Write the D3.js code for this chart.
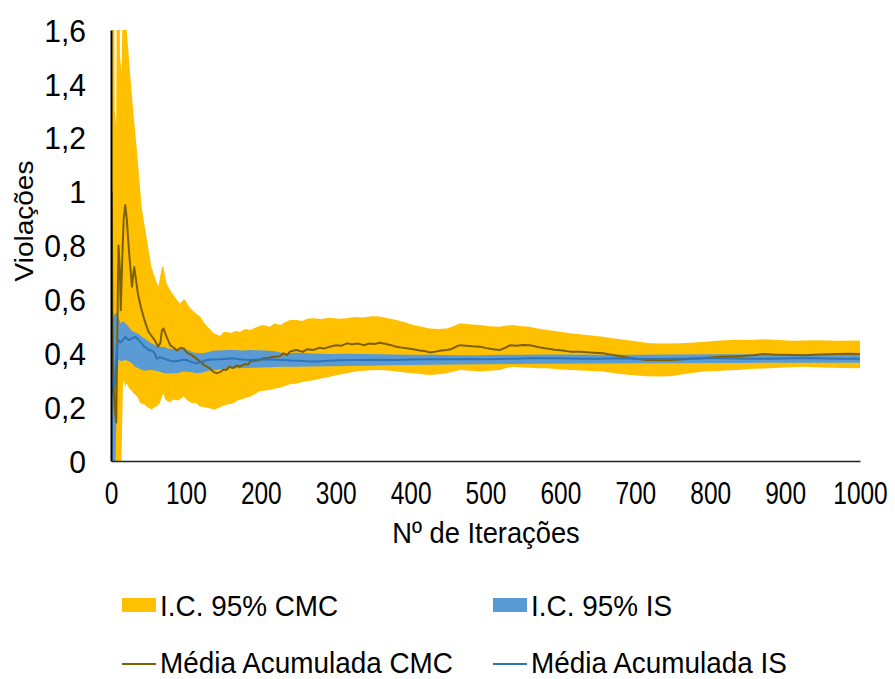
<!DOCTYPE html>
<html>
<head>
<meta charset="utf-8">
<script src="https://cdn.jsdelivr.net/npm/d3@7"></script>
<style>
  body { margin: 0; background: #fff; }
  text { font-family: "Liberation Sans", Arial, sans-serif; fill: #000; }
</style>
</head>
<body>
<svg id="chart" width="895" height="679"></svg>
<script>
// Cumulative mean and 95% confidence bounds, [iteration, value]
const cmcMean = [[1,1.0],[2,0.5],[3,0.333],[4,0.25],[5,0.2],[6,0.167],[7,0.143],[9,0.6],[10,0.8],[12,0.7],[13,0.56],[15,0.75],[17,0.9],[19,0.95],[21,0.9],[24,0.78],[27,0.68],[28,0.647],[30,0.7],[31,0.72],[33,0.68],[36,0.62],[40,0.57],[45,0.52],[50,0.48],[54,0.465],[58,0.45],[63,0.424],[66,0.44],[68,0.486],[70,0.492],[73,0.47],[76,0.45],[79,0.43],[84,0.42],[88,0.41],[93,0.42],[97,0.418],[102,0.4],[108,0.393],[114,0.38],[119,0.369],[125,0.355],[132,0.344],[137,0.33],[141,0.326],[146,0.33],[150,0.34],[154,0.338],[158,0.35],[163,0.345],[168,0.355],[172,0.35],[178,0.36],[183,0.358],[186,0.369],[192,0.372],[199,0.375],[203,0.381],[210,0.383],[217,0.387],[221,0.387],[226,0.39],[230,0.4],[235,0.393],[239,0.406],[244,0.41],[248,0.412],[256,0.405],[262,0.415],[270,0.412],[278,0.42],[285,0.418],[292,0.424],[300,0.43],[308,0.428],[315,0.437],[322,0.433],[330,0.436],[337,0.43],[345,0.436],[352,0.434],[359,0.439],[366,0.435],[374,0.43],[381,0.424],[390,0.42],[397,0.418],[404,0.415],[412,0.41],[419,0.408],[426,0.403],[433,0.406],[441,0.41],[448,0.412],[455,0.416],[461,0.425],[466,0.43],[474,0.428],[482,0.426],[493,0.424],[500,0.42],[510,0.415],[519,0.412],[526,0.42],[533,0.43],[541,0.428],[550,0.431],[559,0.43],[567,0.425],[575,0.42],[582,0.418],[592,0.413],[603,0.41],[613,0.406],[626,0.406],[640,0.403],[657,0.4],[672,0.393],[688,0.385],[700,0.38],[715,0.375],[730,0.376],[746,0.375],[760,0.377],[775,0.38],[790,0.381],[800,0.384],[813,0.387],[828,0.388],[844,0.39],[858,0.393],[870,0.397],[885,0.395],[900,0.394],[924,0.393],[945,0.395],[969,0.397],[985,0.398],[1000,0.397]];

const cmcUpper = [[1,1.0],[2,1.9],[4,2.0],[5,1.3],[7,1.25],[8,2.0],[11,2.0],[12,1.5],[14,1.45],[16,1.75],[19,1.75],[21,1.6],[28,1.35],[34,1.17],[41,0.94],[48,0.82],[54,0.72],[60,0.67],[63,0.647],[66,0.69],[68,0.72],[70,0.72],[74,0.66],[79,0.635],[85,0.61],[92,0.585],[97,0.6],[99,0.598],[105,0.57],[112,0.55],[119,0.536],[125,0.51],[132,0.49],[137,0.474],[141,0.47],[146,0.465],[150,0.478],[154,0.48],[160,0.475],[166,0.483],[172,0.48],[179,0.49],[186,0.486],[190,0.492],[197,0.5],[203,0.505],[212,0.498],[218,0.51],[226,0.505],[232,0.515],[239,0.523],[248,0.523],[255,0.52],[262,0.528],[270,0.53],[280,0.527],[292,0.532],[304,0.528],[315,0.53],[326,0.535],[337,0.533],[348,0.537],[359,0.536],[370,0.53],[381,0.523],[392,0.515],[404,0.505],[415,0.498],[426,0.492],[437,0.49],[448,0.492],[457,0.5],[466,0.511],[478,0.508],[493,0.505],[506,0.5],[519,0.498],[528,0.503],[537,0.505],[548,0.5],[559,0.498],[570,0.492],[582,0.486],[595,0.482],[613,0.474],[635,0.468],[657,0.461],[672,0.455],[688,0.449],[705,0.443],[720,0.437],[740,0.436],[760,0.437],[778,0.44],[795,0.443],[813,0.447],[835,0.45],[852,0.449],[871,0.452],[890,0.449],[910,0.446],[924,0.447],[945,0.448],[970,0.446],[1000,0.447]];

const cmcLower = [[1,0],[14,0],[16,0.29],[17,0.3],[19,0.276],[21,0.288],[24,0.27],[28,0.26],[30,0.251],[33,0.245],[36,0.235],[39,0.214],[45,0.21],[48,0.2],[52,0.196],[54,0.19],[58,0.2],[62,0.205],[65,0.214],[68,0.24],[70,0.251],[72,0.23],[76,0.22],[79,0.22],[84,0.228],[90,0.225],[97,0.239],[102,0.225],[108,0.215],[114,0.214],[119,0.202],[125,0.2],[132,0.196],[137,0.19],[142,0.195],[150,0.205],[156,0.21],[163,0.214],[170,0.226],[178,0.232],[186,0.239],[193,0.25],[199,0.26],[206,0.262],[212,0.264],[221,0.27],[226,0.272],[234,0.28],[239,0.285],[248,0.288],[259,0.295],[270,0.3],[281,0.306],[292,0.313],[304,0.32],[315,0.326],[326,0.332],[337,0.335],[348,0.337],[359,0.338],[370,0.336],[381,0.332],[392,0.329],[404,0.326],[415,0.322],[426,0.319],[437,0.322],[448,0.326],[457,0.332],[466,0.338],[480,0.335],[493,0.332],[506,0.335],[519,0.338],[528,0.345],[537,0.35],[548,0.347],[559,0.346],[570,0.344],[582,0.344],[600,0.34],[613,0.338],[635,0.335],[657,0.332],[672,0.326],[690,0.32],[715,0.315],[730,0.314],[746,0.315],[760,0.32],[775,0.327],[791,0.332],[813,0.335],[835,0.338],[858,0.342],[880,0.344],[900,0.347],[924,0.35],[950,0.347],[975,0.345],[1000,0.344]];

const isMean = [[1,0.25],[3,0.3],[5,0.28],[8,0.424],[10,0.449],[13,0.44],[16,0.45],[19,0.461],[22,0.452],[25,0.449],[28,0.455],[32,0.461],[35,0.455],[38,0.445],[41,0.437],[44,0.425],[47,0.42],[50,0.412],[54,0.41],[57,0.405],[59,0.395],[61,0.38],[65,0.385],[70,0.381],[76,0.375],[83,0.369],[90,0.372],[95,0.376],[101,0.375],[107,0.368],[114,0.363],[121,0.368],[128,0.375],[135,0.377],[146,0.378],[155,0.38],[163,0.381],[172,0.378],[180,0.376],[186,0.375],[197,0.377],[208,0.378],[219,0.376],[230,0.375],[241,0.373],[252,0.372],[262,0.37],[275,0.369],[290,0.372],[305,0.374],[320,0.375],[340,0.375],[360,0.376],[380,0.375],[400,0.377],[420,0.378],[440,0.378],[460,0.378],[480,0.379],[500,0.378],[520,0.379],[540,0.38],[560,0.381],[580,0.381],[600,0.381],[625,0.38],[650,0.38],[680,0.381],[700,0.38],[730,0.379],[760,0.38],[790,0.381],[820,0.381],[850,0.38],[880,0.38],[910,0.381],[940,0.381],[970,0.38],[1000,0.38]];

const isUpper = [[1,0.52],[3,0.535],[6,0.55],[8,0.545],[10,0.53],[13,0.51],[16,0.52],[19,0.511],[23,0.5],[27,0.486],[30,0.48],[34,0.475],[38,0.47],[41,0.461],[45,0.455],[50,0.445],[54,0.437],[59,0.43],[65,0.424],[70,0.424],[76,0.418],[83,0.415],[90,0.412],[97,0.418],[104,0.41],[110,0.403],[119,0.4],[128,0.403],[137,0.41],[146,0.41],[155,0.412],[165,0.412],[175,0.41],[186,0.412],[197,0.411],[208,0.41],[219,0.407],[230,0.4],[248,0.402],[270,0.399],[292,0.397],[315,0.398],[340,0.397],[360,0.396],[380,0.395],[400,0.394],[430,0.394],[460,0.393],[490,0.393],[520,0.394],[550,0.394],[580,0.395],[610,0.395],[650,0.394],[700,0.394],[750,0.395],[800,0.396],[850,0.396],[900,0.395],[950,0.396],[1000,0.396]];

const isLower = [[1,0],[6,0],[8,0.29],[10,0.375],[14,0.37],[19,0.375],[24,0.37],[28,0.362],[32,0.35],[36,0.345],[41,0.338],[46,0.335],[50,0.338],[54,0.338],[60,0.335],[66,0.33],[72,0.326],[80,0.325],[88,0.326],[97,0.332],[106,0.33],[114,0.326],[122,0.328],[130,0.335],[140,0.338],[150,0.342],[160,0.344],[172,0.344],[186,0.346],[199,0.347],[212,0.348],[226,0.35],[248,0.35],[270,0.351],[292,0.352],[315,0.353],[340,0.354],[370,0.355],[400,0.356],[430,0.357],[460,0.358],[500,0.359],[540,0.36],[580,0.361],[620,0.362],[660,0.362],[700,0.363],[750,0.363],[800,0.364],[850,0.364],[900,0.365],[950,0.365],[1000,0.365]];

const xTicks = [0, 100, 200, 300, 400, 500, 600, 700, 800, 900, 1000];
const yTicks = [0, 0.2, 0.4, 0.6, 0.8, 1, 1.2, 1.4, 1.6];

const legendBands = ["I.C. 95% CMC", "I.C. 95% IS"];
const legendLines = ["Média Acumulada CMC", "Média Acumulada IS"];

const colors = {
  cmcBand: "#FFC000",
  isBand: "#5B9BD5",
  cmcLine: "#7F6000",
  isLine: "#2E75B6"
};

const svg = d3.select("#chart");
const plot = { left: 111, right: 860, top: 30, bottom: 461 };

const x = d3.scaleLinear().domain([0, 1000]).range([plot.left, plot.right]);
const y = d3.scaleLinear().domain([0, 1.6]).range([plot.bottom, plot.top]);

svg.append("clipPath").attr("id", "plotClip")
  .append("rect")
  .attr("x", plot.left).attr("y", plot.top)
  .attr("width", plot.right - plot.left).attr("height", plot.bottom - plot.top);

const g = svg.append("g").attr("clip-path", "url(#plotClip)");

const path = d3.line().x(d => x(d[0])).y(d => y(d[1]));

// confidence band: upper bound forward, lower bound back
function band(upper, lower) {
  return path(upper.concat(lower.slice().reverse())) + "Z";
}

g.append("path").attr("d", band(cmcUpper, cmcLower)).attr("fill", colors.cmcBand);
g.append("path").attr("d", band(isUpper, isLower)).attr("fill", colors.isBand);
g.append("path").attr("d", path(cmcMean)).attr("fill", "none")
  .attr("stroke", colors.cmcLine).attr("stroke-width", 2).attr("stroke-linejoin", "round");
g.append("path").attr("d", path(isMean)).attr("fill", "none")
  .attr("stroke", colors.isLine).attr("stroke-width", 2).attr("stroke-linejoin", "round");

// axes
const ptBR = d3.formatLocale({ decimal: ",", thousands: ".", grouping: [3], currency: ["", ""] });
const yFmt = ptBR.format("~g");

const yAxis = svg.append("g").attr("transform", `translate(${plot.left},0)`)
  .call(d3.axisLeft(y).tickValues(yTicks).tickFormat(yFmt).tickSize(0).tickSizeOuter(0));
yAxis.select(".domain").attr("stroke", "#000").attr("stroke-width", 2);
yAxis.selectAll("text")
  .attr("x", null).attr("dy", null)
  .attr("font-size", 31)
  .attr("dominant-baseline", "central")
  .attr("transform", "translate(-25,0) scale(0.97,1)");

const xAxis = svg.append("g").attr("transform", `translate(0,${plot.bottom})`)
  .call(d3.axisBottom(x).tickValues(xTicks).tickFormat(d3.format("d")).tickSize(0).tickSizeOuter(0));
xAxis.select(".domain").attr("stroke", "#222").attr("stroke-width", 1.5);
xAxis.selectAll("text")
  .attr("y", null).attr("dy", null)
  .attr("font-size", 31)
  .attr("dominant-baseline", "central")
  .attr("transform", "translate(0,32) scale(0.79,1)");

svg.selectAll(".tick text").style("font-family", "'Liberation Sans', Arial, sans-serif").attr("fill", "#000");

// axis titles
svg.append("text")
  .attr("transform", "translate(33,221) rotate(-90) scale(1,0.9)")
  .attr("text-anchor", "middle")
  .attr("font-size", 28)
  .text("Violações");

svg.append("text")
  .attr("transform", "translate(486,543) scale(0.91,1)")
  .attr("text-anchor", "middle")
  .attr("font-size", 30)
  .text("Nº de Iterações");

// legend
const legendX = [122, 493];
const bandColors = [colors.cmcBand, colors.isBand];
const lineColors = [colors.cmcLine, colors.isLine];

legendBands.forEach((name, i) => {
  svg.append("rect").attr("x", legendX[i]).attr("y", 598).attr("width", 34).attr("height", 14)
    .attr("fill", bandColors[i]);
  svg.append("text").attr("transform", `translate(${legendX[i] + 38},616) scale(0.93,1)`)
    .attr("font-size", 30).text(name);
});

legendLines.forEach((name, i) => {
  svg.append("line").attr("x1", legendX[i]).attr("x2", legendX[i] + 34)
    .attr("y1", 664).attr("y2", 664)
    .attr("stroke", lineColors[i]).attr("stroke-width", 2);
  svg.append("text").attr("transform", `translate(${legendX[i] + 38},673) scale(0.93,1)`)
    .attr("font-size", 30).text(name);
});
</script>
</body>
</html>
